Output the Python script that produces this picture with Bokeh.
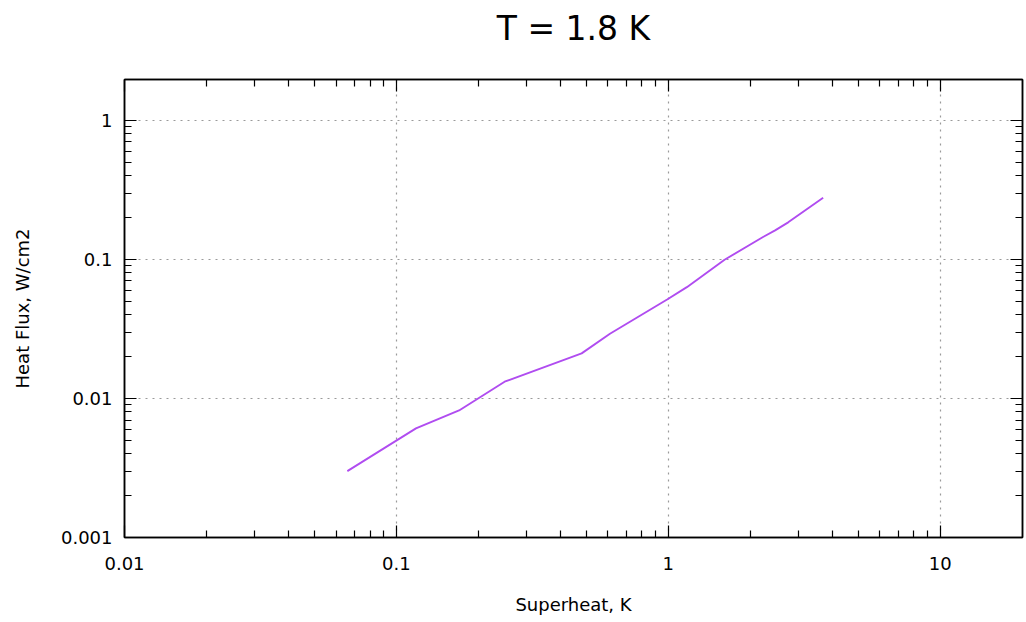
from bokeh.plotting import figure
from bokeh.models import (LogAxis, FixedTicker, CustomJSTickFormatter, Range1d,
                          ColumnDataSource, Title, CustomLabelingPolicy)
from bokeh.embed import file_html
from bokeh.resources import INLINE

# ---- data ----
superheat = [0.066, 0.118, 0.17, 0.25, 0.48, 0.61, 0.99, 1.17, 1.61, 2.23, 2.47, 2.76, 3.71]
heat_flux = [0.0030, 0.0061, 0.0082, 0.0132, 0.0211, 0.0292, 0.0515, 0.0632, 0.0995, 0.145, 0.162, 0.185, 0.278]
x_ticks = [0.01, 0.1, 1, 10]
y_ticks = [0.001, 0.01, 0.1, 1]
title_text = "T = 1.8 K"
x_label = "Superheat, K"
y_label = "Heat Flux, W/cm2"

FONT = "DejaVu Sans"
LINE_COLOR = "#b04cf0"

x_minor = [m * 10.0 ** k for k in range(-2, 2) for m in range(2, 10) if m * 10.0 ** k < 20]
y_minor = [m * 10.0 ** k for k in range(-3, 1) for m in range(2, 10) if m * 10.0 ** k < 2]

fmt = CustomJSTickFormatter(code="return Number(tick.toPrecision(3)).toString();")
no_labels = CustomLabelingPolicy(code="""
const all = [];
for (const i of indices) all.push(i);
for (const i of all) indices.unset(i);
""")

p = figure(frame_width=898, frame_height=458,
           x_axis_type="log", y_axis_type="log",
           x_range=Range1d(0.01, 20.07), y_range=Range1d(0.001, 1.97),
           output_backend="svg", toolbar_location=None,
           min_border_left=124, min_border_right=4,
           min_border_top=79, min_border_bottom=77,
           background_fill_color="white", border_fill_color="white")

p.title = Title(text=title_text, align="center", text_font=FONT,
                text_font_size="33px", text_font_style="normal",
                text_color="#000000", standoff=12)

src = ColumnDataSource(dict(x=superheat, y=heat_flux))
p.line("x", "y", source=src, line_color=LINE_COLOR, line_width=1.9)

def style_axis(ax, ticks, minor, show_labels):
    ax.ticker = FixedTicker(ticks=ticks, minor_ticks=minor)
    ax.formatter = fmt
    ax.major_tick_in = 12
    ax.major_tick_out = 0
    ax.minor_tick_in = 7
    ax.minor_tick_out = 0
    ax.axis_line_color = "#000000"
    ax.axis_line_width = 1.5
    ax.major_tick_line_color = "#000000"
    ax.minor_tick_line_color = "#000000"
    ax.major_tick_line_width = 1.2
    ax.minor_tick_line_width = 1.2
    ax.major_label_text_font = FONT
    ax.major_label_text_font_size = "18px"
    ax.major_label_text_color = "#000000"
    ax.axis_label_text_font = FONT
    ax.axis_label_text_font_size = "18px"
    ax.axis_label_text_font_style = "normal"
    ax.axis_label_text_color = "#000000"
    if not show_labels:
        ax.major_label_policy = no_labels
        ax.major_label_standoff = 0
        ax.axis_label = None

style_axis(p.xaxis[0], x_ticks, x_minor, True)
style_axis(p.yaxis[0], y_ticks, y_minor, True)
p.xaxis[0].axis_label = x_label
p.yaxis[0].axis_label = y_label
p.xaxis[0].major_label_standoff = 19
p.xaxis[0].axis_label_standoff = 21
p.yaxis[0].major_label_standoff = 12
p.yaxis[0].axis_label_standoff = 25

top = LogAxis()
right = LogAxis()
style_axis(top, x_ticks, x_minor, False)
style_axis(right, y_ticks, y_minor, False)
top.major_label_standoff = 10
p.add_layout(top, "above")
p.add_layout(right, "right")

p.xgrid.ticker = FixedTicker(ticks=x_ticks)
p.ygrid.ticker = FixedTicker(ticks=y_ticks)
for g in (p.xgrid[0], p.ygrid[0]):
    g.grid_line_color = "#9a9a9a"
    g.grid_line_dash = "2 5"
    g.grid_line_width = 1.2

p.outline_line_color = "#000000"
p.outline_line_width = 1.5

open("out.html", "w").write(file_html(p, INLINE))
